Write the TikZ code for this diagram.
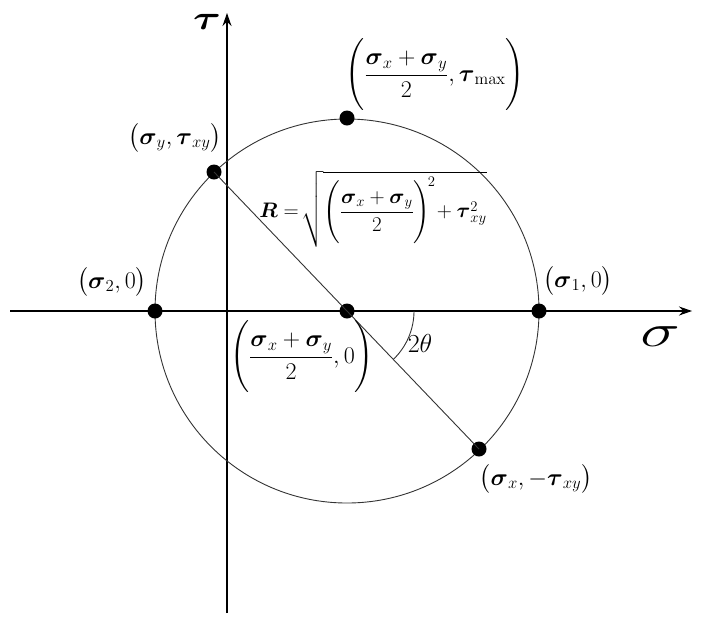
\RequirePackage{fix-cm}
\documentclass[tikz,border=0pt]{standalone}
\usepackage{amsmath,amssymb}
\usetikzlibrary{arrows.meta}
\newcommand{\bs}{\boldsymbol{\sigma}}
\newcommand{\bt}{\boldsymbol{\tau}}
\tikzset{
  dot/.style={circle,fill=black,inner sep=0pt,minimum size=15pt},
  axis/.style={line width=1.1pt,-{Stealth[length=13pt,width=9pt]}},
  lbl/.style={inner sep=0pt,font=\fontsize{24}{28}\selectfont},
  thin line/.style={line width=0.9pt,draw=black!80}
}
\begin{document}
\begin{tikzpicture}[x=1pt,y=-1pt]
\useasboundingbox (0,0) rectangle (711,625);
% axes
\coordinate (xs) at (10,311);
\coordinate (xe) at (692,311);
\coordinate (ys) at (227,613);
\coordinate (ye) at (227,13);
\draw[axis] (xs) -- (xe);
\draw[axis] (ys) -- (ye);
% circle
\coordinate (C) at (347,311);
\draw[thin line] (C) circle[radius=192pt];
% points
\node[dot] (pc) at (347,311) {};
\node[dot] (p1) at (539,311) {};
\node[dot] (p2) at (155,311) {};
\node[dot] (pt) at (347,118) {};
\node[dot] (py) at (214,172) {};
\node[dot] (px) at (479,449) {};
\draw[thin line] (py.center) -- (px.center);
% angle arc
\draw[thin line] (414,311) arc[start angle=0,end angle=-46.3,radius=67pt];
% labels
\node[lbl,xscale=1.25] (ltau) at (207,22) {\fontsize{34}{36}\selectfont$\bt$};
\node[lbl,xscale=1.45] (lsig) at (660,337) {\fontsize{46}{48}\selectfont$\sigma$};
\node[lbl] (ltop) at (435,75) {$\Biggl(\dfrac{\bs_{x}+\bs_{y}}{2},\bt_{\max}\Biggr)$};
\node[lbl] (lpy) at (175,138) {$\bigl(\bs_{y},\bt_{xy}\bigr)$};
\node[lbl,font=\fontsize{21}{25}\selectfont] (lR) at (373,209) {$\boldsymbol{R}=\!\sqrt{\Biggl(\dfrac{\bs_{x}+\bs_{y}}{2}\Biggr)^{\!2}\!+\bt_{xy}^{2}}$};
\node[lbl] (lp2) at (112,282) {$\bigl(\bs_{2},0\bigr)$};
\node[lbl] (lp1) at (578,281) {$\bigl(\bs_{1},0\bigr)$};
\node[lbl] (lpc) at (302,357) {$\Biggl(\dfrac{\bs_{x}+\bs_{y}}{2},0\Biggr)$};
\node[lbl,font=\fontsize{26}{30}\selectfont] (lth) at (420,343) {$2\theta$};
\node[lbl] (lpx) at (536,479) {$\bigl(\bs_{x},-\bt_{xy}\bigr)$};
\end{tikzpicture}
\end{document}
